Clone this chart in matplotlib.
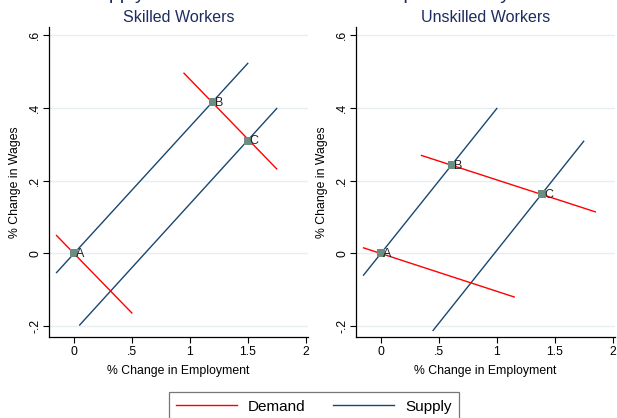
import matplotlib
matplotlib.use("Agg")
import matplotlib.pyplot as plt
from matplotlib.lines import Line2D

plt.rcParams["font.family"] = ["Liberation Sans", "DejaVu Sans"]

DEMAND_COLOR = "#ff0000"
SUPPLY_COLOR = "#1a476f"
POINT_COLOR = "#6b8d82"
TITLE_COLOR = "#1c2d5e"
GRID_COLOR = "#e6eef0"

# skilled workers: line endpoints (employment, wage) and equilibria
skilled_supply = [([-0.15, 1.50], [-0.053, 0.522]),
                  ([0.05, 1.75], [-0.197, 0.398])]
skilled_demand = [([-0.15, 0.50], [0.049, -0.164]),
                  ([0.95, 1.75], [0.495, 0.232])]
skilled_points_x = [0.0, 1.20, 1.50]
skilled_points_y = [0.0, 0.415, 0.310]

# unskilled workers
unskilled_supply = [([-0.15, 1.00], [-0.060, 0.398]),
                    ([0.45, 1.75], [-0.212, 0.308])]
unskilled_demand = [([-0.15, 1.15], [0.015, -0.120]),
                    ([0.35, 1.85], [0.269, 0.114])]
unskilled_points_x = [0.0, 0.61, 1.39]
unskilled_points_y = [0.0, 0.242, 0.162]

point_labels = ["A", "B", "C"]
xticks = [0, 0.5, 1, 1.5, 2]
xticklabels = ["0", ".5", "1", "1.5", "2"]
yticks = [-0.2, 0, 0.2, 0.4, 0.6]
yticklabels = ["-.2", "0", ".2", ".4", ".6"]

fig = plt.figure(figsize=(6.17, 4.18), dpi=100)

# overall title sits above the canvas, only its descenders show
fig.text(85 / 617, 1 + 1 / 418, "Supply and Demand Shifts with Complementarity in Production",
         ha="left", va="baseline", fontsize=14, color=TITLE_COLOR)


def panel(ax, title, supply, demand, px, py):
    for xs, ys in supply:
        ax.plot(xs, ys, color=SUPPLY_COLOR, lw=1.0)
    for xs, ys in demand:
        ax.plot(xs, ys, color=DEMAND_COLOR, lw=1.0)
    ax.scatter(px, py, marker="s", s=30, color=POINT_COLOR, zorder=5, linewidths=0)
    for x, y, lab in zip(px, py, point_labels):
        ax.annotate(lab, (x, y), xytext=(1.5, -0.5), textcoords="offset points",
                    ha="left", va="center", fontsize=9, color="#222222", zorder=6)
    ax.set_xlim(-0.215, 2.02)
    ax.set_ylim(-0.23, 0.622)
    ax.set_xticks(xticks)
    ax.set_xticklabels(xticklabels)
    ax.set_yticks(yticks)
    ax.set_yticklabels(yticklabels, rotation=90, va="center")
    ax.tick_params(labelsize=8.8, length=4, width=0.8, direction="out")
    ax.tick_params(axis="y", pad=1.5)
    ax.tick_params(axis="x", pad=2.5)
    ax.grid(axis="y", color=GRID_COLOR, lw=1.0)
    ax.set_axisbelow(True)
    for side in ("top", "right"):
        ax.spines[side].set_visible(False)
    for side in ("left", "bottom"):
        ax.spines[side].set_linewidth(0.9)
    ax.set_xlabel("% Change in Employment", fontsize=8.8, labelpad=5)
    ax.set_ylabel("% Change in Wages", fontsize=8.8, labelpad=6)
    ax.set_title(title, fontsize=11.5, color=TITLE_COLOR, pad=3.5)


ax1 = fig.add_axes([49 / 617, 1 - 337 / 418, 259 / 617, 310 / 418])
ax2 = fig.add_axes([356 / 617, 1 - 337 / 418, 259 / 617, 310 / 418])
panel(ax1, "Skilled Workers", skilled_supply, skilled_demand,
      skilled_points_x, skilled_points_y)
panel(ax2, "Unskilled Workers", unskilled_supply, unskilled_demand,
      unskilled_points_x, unskilled_points_y)

handles = [Line2D([], [], color=DEMAND_COLOR, lw=1.0),
           Line2D([], [], color=SUPPLY_COLOR, lw=1.0)]
leg = fig.legend(handles, ["Demand", "Supply"], loc="upper center",
                 bbox_to_anchor=(314 / 617, 1 - 392 / 418), ncol=2, fontsize=11,
                 handlelength=4.0, handletextpad=0.7, columnspacing=1.8,
                 borderpad=0.5, borderaxespad=0, frameon=True, fancybox=False)
leg.get_frame().set_edgecolor("#555555")
leg.get_frame().set_linewidth(0.9)

fig.savefig("out.png", dpi=100)
